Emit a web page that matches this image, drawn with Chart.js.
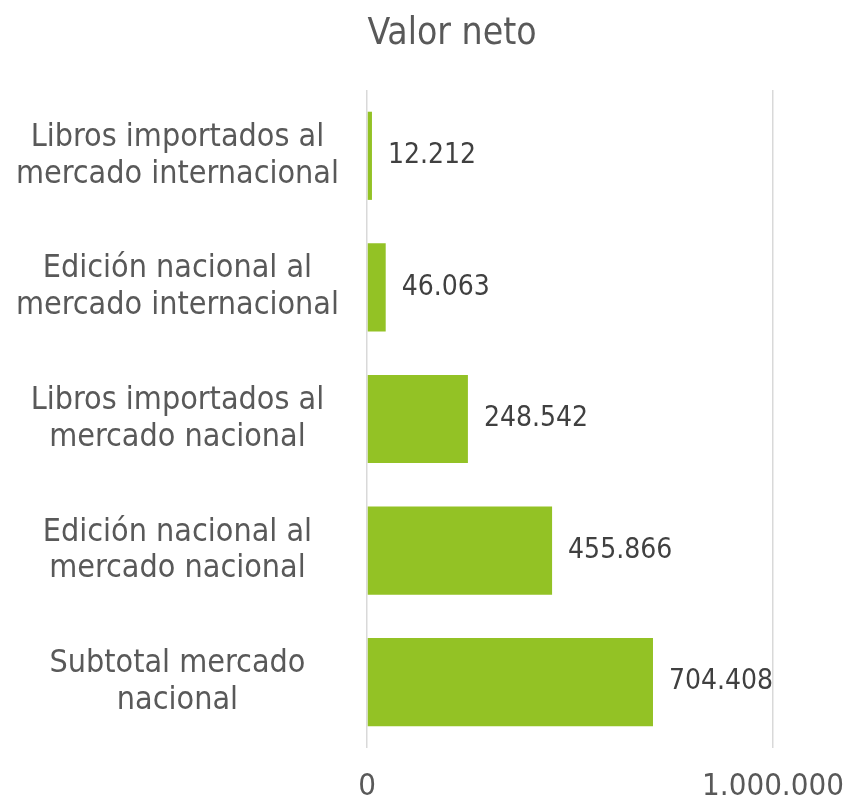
<!DOCTYPE html>
<html>
<head>
<meta charset="utf-8">
<title>Valor neto</title>
<script src="https://cdn.jsdelivr.net/npm/chart.js@4"></script>
<style>
  html, body { margin: 0; padding: 0; background: #fff; }
  #wrap { width: 848px; height: 802px; position: relative; }
</style>
</head>
<body>
<div id="wrap"><canvas id="chart"></canvas></div>
<script>
const categories = [
  ["Libros importados al", "mercado internacional"],
  ["Edición nacional al", "mercado internacional"],
  ["Libros importados al", "mercado nacional"],
  ["Edición nacional al", "mercado nacional"],
  ["Subtotal mercado", "nacional"]
];
const values = [12212, 46063, 248542, 455866, 704408];
const xTicks = [0, 1000000];
const chartTitle = "Valor neto";

const FONT = "'DejaVu Sans Condensed', 'DejaVu Sans', sans-serif";

function fmt(n) {
  return String(n).replace(/\B(?=(\d{3})+(?!\d))/g, ".");
}

// title + value labels drawn by hand
const labelsPlugin = {
  id: "valueLabels",
  afterDatasetsDraw(chart) {
    const ctx = chart.ctx;
    const meta = chart.getDatasetMeta(0);
    ctx.save();
    ctx.font = "28px " + FONT;
    ctx.fillStyle = "#404040";
    ctx.textAlign = "left";
    ctx.textBaseline = "middle";
    meta.data.forEach((bar, i) => {
      ctx.fillText(fmt(values[i]), bar.x + 16, bar.y);
    });
    ctx.font = "37px " + FONT;
    ctx.fillStyle = "#595959";
    ctx.textAlign = "center";
    ctx.fillText(chartTitle, 452, 34);
    ctx.restore();
  }
};

new Chart(document.getElementById("chart"), {
  type: "bar",
  data: {
    labels: categories,
    datasets: [{
      data: values,
      backgroundColor: "#93C225",
      categoryPercentage: 1,
      barPercentage: 0.67
    }]
  },
  options: {
    indexAxis: "y",
    responsive: true,
    maintainAspectRatio: false,
    animation: false,
    layout: { padding: { top: 90, right: 75, left: 17, bottom: 0 } },
    plugins: {
      legend: { display: false },
      tooltip: { enabled: false }
    },
    scales: {
      x: {
        min: 0,
        max: 1000000,
        afterBuildTicks: (scale) => { scale.ticks = xTicks.map(v => ({ value: v })); },
        afterFit: (scale) => {
          scale.height = 54;
          scale.paddingLeft = 0;
          scale.paddingRight = 0;
          scale.paddingTop = 0;
          scale.paddingBottom = 0;
        },
        grid: { color: "#d9d9d9", lineWidth: 1.5, drawTicks: false },
        border: { display: false },
        ticks: {
          padding: 20,
          color: "#595959",
          font: { family: FONT, size: 31 },
          maxRotation: 0,
          autoSkip: false,
          callback: (v) => fmt(v)
        }
      },
      y: {
        afterFit: (scale) => {
          scale.width = 350;
          scale.paddingTop = 0;
          scale.paddingBottom = 0;
        },
        grid: { display: false },
        border: { display: false },
        ticks: {
          padding: 20,
          crossAlign: "center",
          color: "#595959",
          font: { family: FONT, size: 32, lineHeight: 1.15 }
        }
      }
    }
  },
  plugins: [labelsPlugin]
});
</script>
</body>
</html>
